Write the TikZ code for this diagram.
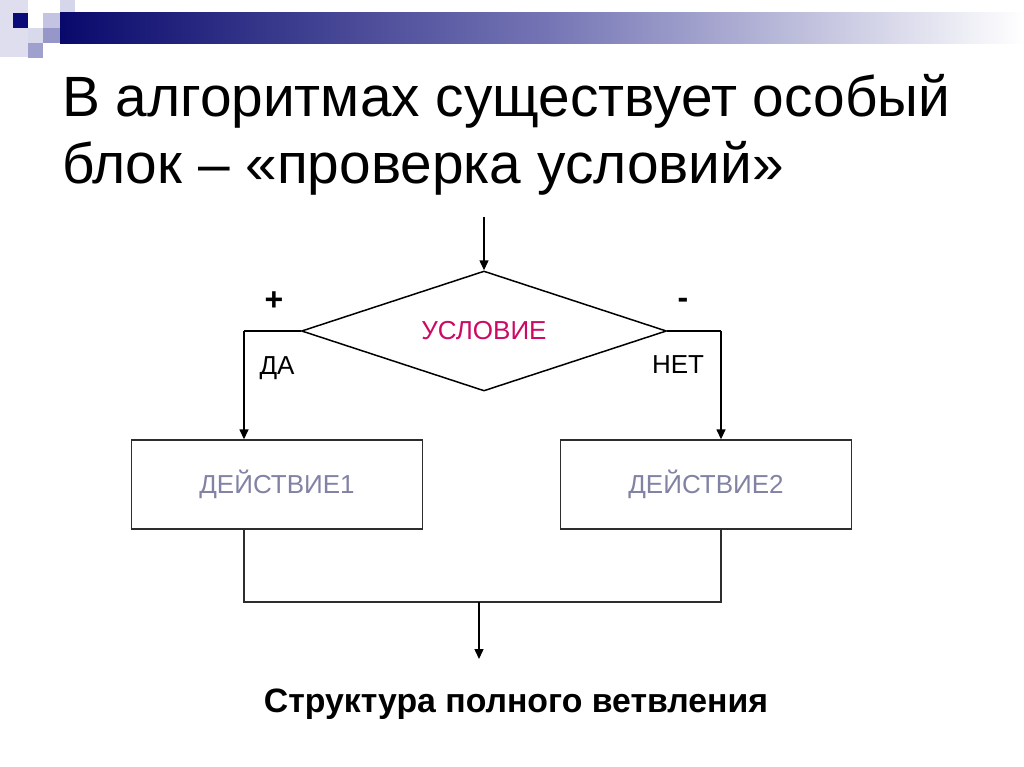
\documentclass[tikz,border=0pt]{standalone}
\usepackage{fontspec}
\setmainfont{Liberation Sans}
\usetikzlibrary{shapes.geometric,arrows.meta}

\definecolor{navyblock}{RGB}{10,10,120}
\definecolor{lavlight}{RGB}{222,222,238}
\definecolor{lavmid}{RGB}{196,196,226}
\definecolor{lavdark}{RGB}{150,150,200}
\definecolor{condcol}{RGB}{204,10,100}
\definecolor{actcol}{RGB}{130,130,165}
\definecolor{linecol}{RGB}{45,45,45}

\tikzset{
  flowline/.style={color=linecol,line width=1.4pt},
  flowarrow/.style={color=black,line width=1.5pt,-{Triangle[length=10pt,width=9pt]}},
  actbox/.style={draw=linecol,line width=1.4pt,minimum width=291pt,minimum height=89pt,inner sep=0pt,
    text=actcol,font=\fontsize{26}{30}\selectfont},
  condbox/.style={diamond,draw=black,line width=1.5pt,aspect=3,minimum width=365pt,minimum height=120pt,
    inner sep=0pt,text=condcol,font=\fontsize{26}{30}\selectfont},
  branchlabel/.style={font=\fontsize{26}{30}\selectfont,inner sep=0pt},
  titleline/.style={anchor=base west,inner sep=0pt,font=\fontsize{56.8}{64}\selectfont}
}

\begin{document}
\begin{tikzpicture}[x=1pt,y=1pt,yscale=-1,xscale=1]
        \useasboundingbox (0,0) rectangle (1024,767);
        \fill[white] (0,0) rectangle (1024,767);

        %Header: squares and bar
        \fill[lavlight] (0,0) rectangle (28,57);
        \fill[lavmid!70!white] (60,0) rectangle (75,13);
        \fill[lavmid] (60,13) rectangle (75,28);
        \fill[lavmid] (43,13) rectangle (60,28);
        \fill[navyblock] (13,13) rectangle (28,28);
        \fill[lavlight!80!lavmid] (28,28) rectangle (43,43);
        \fill[lavdark] (43,28) rectangle (60,43);
        \fill[lavdark!90!white] (28,43) rectangle (43,58);
        \shade[left color=navyblock!90!black,right color=white,middle color=lavdark!75!navyblock]
          (60,13) rectangle (1024,44);

        %Title
        \node[titleline] (titleA) at (62,117) {В алгоритмах существует особый};
        \node[titleline] (titleB) at (62,184) {блок – «проверка условий»};

        %Shape: Diamond
        \node[condbox] (cond) at (484,331) {УСЛОВИЕ};
        %Shape: Rectangles
        \node[actbox] (act1) at (277,484.5) {ДЕЙСТВИЕ1};
        \node[actbox] (act2) at (706,484.5) {ДЕЙСТВИЕ2};

        %Turning points
        \coordinate (start) at (484,217);
        \coordinate (yesturn) at (244,331);
        \coordinate (noturn) at (721,331);
        \coordinate (join) at (479,602);
        \coordinate (finish) at (479,659);

        %Straight Lines
        \draw[flowarrow] (start) -- (cond.north);
        \draw[color=black,line width=1.5pt] (cond.west) -- (yesturn);
        \draw[flowarrow] (yesturn) -- (yesturn |- act1.north);
        \draw[color=black,line width=1.5pt] (cond.east) -- (noturn);
        \draw[flowarrow] (noturn) -- (noturn |- act2.north);
        \draw[flowline] (yesturn |- act1.south) -- (yesturn |- join) -- (noturn |- join) -- (noturn |- act2.south);
        \draw[flowarrow] (join) -- (finish);

        %Labels
        \node[branchlabel,font=\bfseries\fontsize{32}{34}\selectfont] (plus) at (274,301) {+};
        \node[branchlabel,font=\bfseries\fontsize{32}{34}\selectfont] (minus) at (683,303) {-};
        \node[branchlabel] (yes) at (277,368) {ДА};
        \node[branchlabel] (no) at (678,365) {НЕТ};

        %Caption
        \node[anchor=base,inner sep=0pt,font=\bfseries\fontsize{33.8}{36}\selectfont] (caption) at (516,712)
          {Структура полного ветвления};
\end{tikzpicture}
\end{document}
